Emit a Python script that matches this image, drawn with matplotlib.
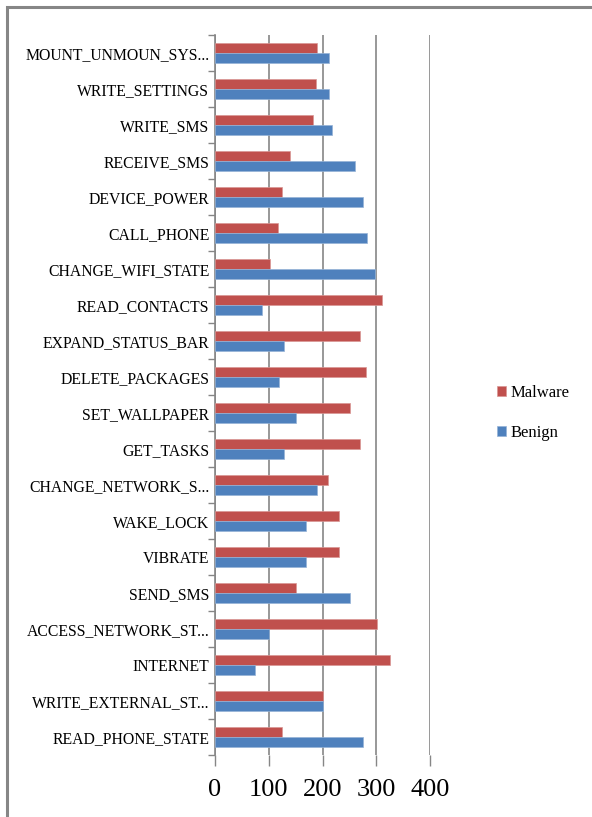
import numpy as np
import matplotlib
matplotlib.use("Agg")
import matplotlib.pyplot as plt
from matplotlib.patches import Rectangle

# categories from bottom to top
perms = ["READ_PHONE_STATE", "WRITE_EXTERNAL_ST...", "INTERNET", "ACCESS_NETWORK_ST...",
         "SEND_SMS", "VIBRATE", "WAKE_LOCK", "CHANGE_NETWORK_S...", "GET_TASKS",
         "SET_WALLPAPER", "DELETE_PACKAGES", "EXPAND_STATUS_BAR", "READ_CONTACTS",
         "CHANGE_WIFI_STATE", "CALL_PHONE", "DEVICE_POWER", "RECEIVE_SMS",
         "WRITE_SMS", "WRITE_SETTINGS", "MOUNT_UNMOUN_SYS..."]
malware = [125, 200, 325, 301, 151, 230, 230, 210, 270, 251, 280, 270, 311,
           103, 118, 125, 139, 182, 187, 190]
benign = [275, 200, 74, 100, 251, 170, 170, 189, 129, 151, 119, 129, 88,
          297, 282, 275, 261, 218, 213, 213]
xticks = [0, 100, 200, 300, 400]

plt.rcParams['font.family'] = ['Liberation Serif', 'DejaVu Serif']

fig = plt.figure(figsize=(5.92, 8.17), dpi=100)
# outer frame (only left and top edges visible)
fig.patches.append(Rectangle((7 / 592, -0.1), 1.2, 1.1 - 7 / 817, transform=fig.transFigure,
                             fill=False, edgecolor="#868686", linewidth=2.2))

ax = fig.add_axes([215 / 592, 62 / 817, 215 / 592, 720 / 817])
y = np.arange(len(perms))
h = 0.28
ax.barh(y + h / 2, malware, height=h, color="#C0504D", edgecolor="#D99694", linewidth=0.5,
        label="Malware", zorder=3)
ax.barh(y - h / 2, benign, height=h, color="#4F81BD", edgecolor="#95B3D7", linewidth=0.5,
        label="Benign", zorder=3)

ax.set_xlim(0, 400)
ax.set_ylim(-0.5, len(perms) - 0.5)
ax.set_xticks(xticks)
ax.set_xticklabels([str(t) for t in xticks], fontsize=19)
ax.set_yticks(y)
ax.set_yticklabels(perms, fontsize=11.3)
ax.set_yticks(np.arange(len(perms) + 1) - 0.5, minor=True)
ax.tick_params(axis="y", which="major", length=0, pad=4)
ax.tick_params(axis="y", which="minor", length=5, color="#868686", width=1)
ax.tick_params(axis="x", length=8, color="#868686", width=1, pad=9)
ax.grid(axis="x", color="#868686", linewidth=1.2, zorder=0)
for s in ["top", "right", "bottom"]:
    ax.spines[s].set_visible(False)
ax.spines["left"].set_color("#868686")
ax.spines["left"].set_linewidth(1.2)

handles, labels = ax.get_legend_handles_labels()
fig.legend(handles, labels, loc="center left", bbox_to_anchor=(482 / 592, 1 - 413 / 817),
           frameon=False, fontsize=12, handlelength=0.55, handleheight=0.55,
           handletextpad=0.25, labelspacing=1.4)

fig.savefig("out.png", dpi=100)
